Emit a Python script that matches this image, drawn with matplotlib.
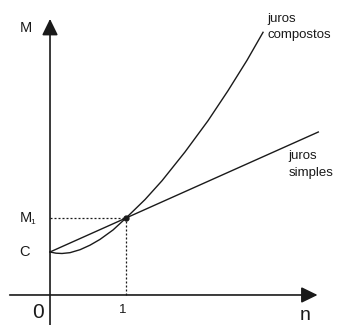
import matplotlib.pyplot as plt

# values (n in periods, M in arbitrary units, C = 1)
C = 1.0
M1 = 1.79
n_comp = [0, 0.079, 0.158, 0.263, 0.395, 0.526, 0.658, 0.829, 1.0,
          1.25, 1.474, 1.776, 2.079, 2.342, 2.592, 2.803]
M_comp = [1.0, 0.972, 0.965, 0.984, 1.053, 1.158, 1.293, 1.512, 1.79,
          2.219, 2.658, 3.326, 4.053, 4.751, 5.458, 6.109]
n_simp = [0, 3.53]
M_simp = [1.0, 3.79]

ink = '#1a1a1a'
plt.rcParams['font.family'] = ['Liberation Sans', 'DejaVu Sans']

fig = plt.figure(figsize=(3.37, 3.25), dpi=100)
ax = fig.add_axes([0, 0, 1, 1])
ax.set_xlim(-0.658, 3.776)
ax.set_ylim(-0.698, 6.86)
ax.axis('off')

# axes with arrowheads
arrow = dict(arrowstyle='-|>,head_length=0.45,head_width=0.22', color=ink,
             lw=1.2, mutation_scale=22, shrinkA=0, shrinkB=0)
ax.annotate('', xy=(0, 6.42), xytext=(0, -0.75), arrowprops=arrow)
ax.annotate('', xy=(3.52, 0), xytext=(-0.53, 0), arrowprops=arrow)

# curves
ax.plot(n_comp, M_comp, color=ink, lw=1.0, solid_joinstyle='round')
ax.plot(n_simp, M_simp, color=ink, lw=1.0)

# guide lines to the crossing point
dots = (0, (1.6, 1.6))
ax.plot([0, 1], [M1, M1], color=ink, lw=0.9, linestyle=dots)
ax.plot([1, 1], [0, M1], color=ink, lw=0.9, linestyle=dots)
ax.plot([1], [M1], 'o', color=ink, ms=3.5)

# labels
ax.text(-0.32, 6.22, 'M', fontsize=10.5, color=ink, ha='center', va='center')
ax.text(-0.32, M1, 'M', fontsize=10.5, color=ink, ha='center', va='center')
ax.text(-0.225, M1 - 0.1, '1', fontsize=6, color=ink, ha='center', va='center')
ax.text(-0.34, C, 'C', fontsize=10.5, color=ink, ha='center', va='center')
ax.text(-0.16, -0.4, '0', fontsize=15, color=ink, ha='center', va='center')
ax.text(0.96, -0.35, '1', fontsize=9.5, color=ink, ha='center', va='center')
ax.text(3.36, -0.47, 'n', fontsize=14, color=ink, ha='center', va='center')

ax.text(2.855, 6.42, 'juros', fontsize=9.5, color=ink, ha='left', va='center')
ax.text(2.855, 6.05, 'compostos', fontsize=9.5, color=ink, ha='left', va='center')
ax.text(3.14, 3.23, 'juros', fontsize=9.5, color=ink, ha='left', va='center')
ax.text(3.14, 2.83, 'simples', fontsize=9.5, color=ink, ha='left', va='center')

fig.savefig('out.png', dpi=100)
